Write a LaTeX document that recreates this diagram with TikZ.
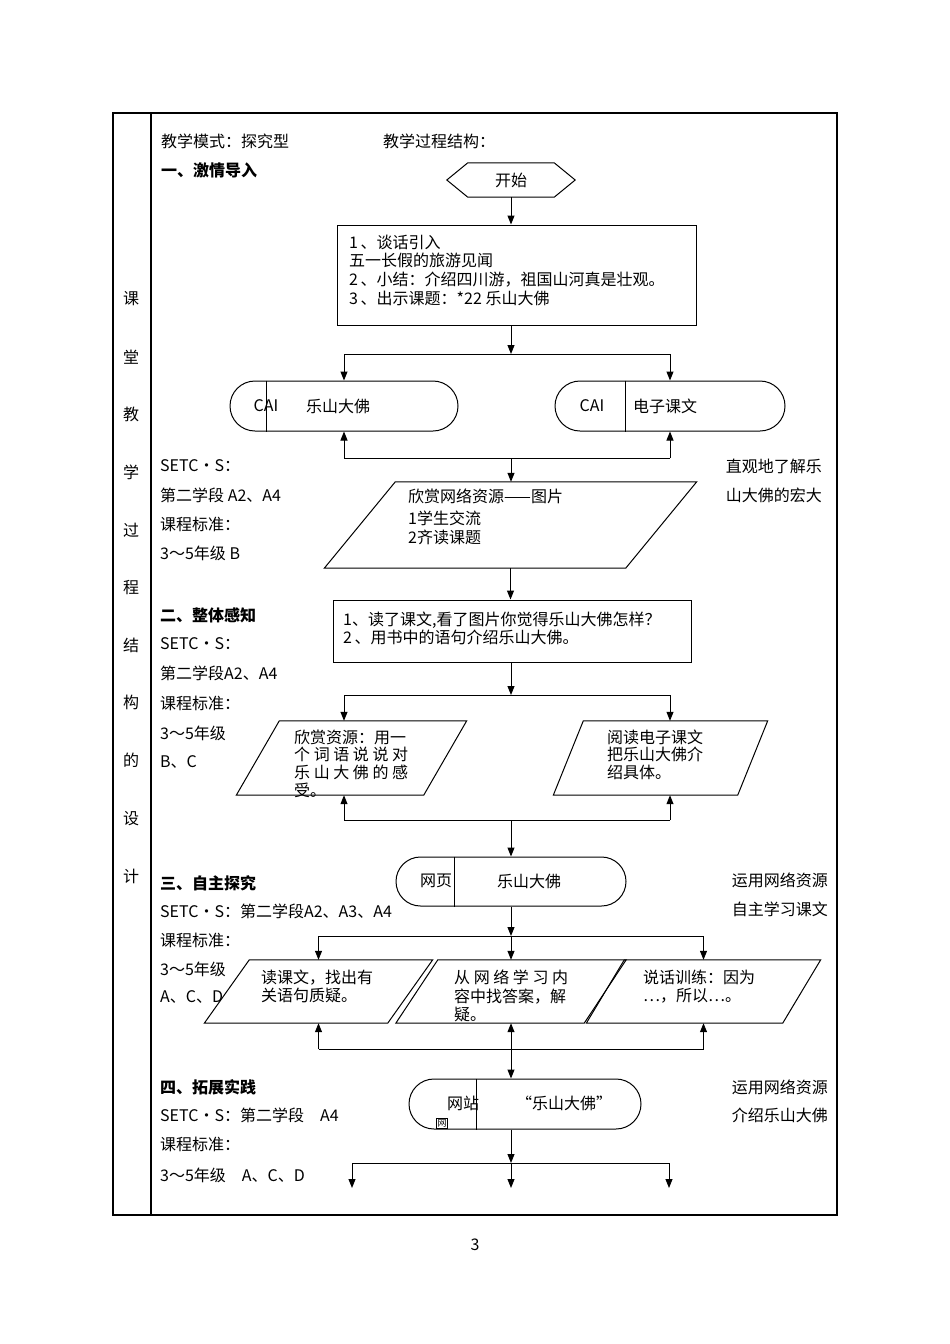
\documentclass[tikz,border=0pt]{standalone}
\usepackage{fontspec}
\setmainfont{Noto Sans CJK SC}
\usetikzlibrary{arrows.meta,shapes.misc}

\tikzset{
  every node/.style={inner sep=0pt, font=\fontsize{16}{18.7}\selectfont},
  txt/.style={anchor=west},
  rtxt/.style={anchor=east},
  hd/.style={anchor=west, font=\fontsize{16}{18.7}\selectfont\bfseries},
  para/.style={anchor=north west, align=left},
  tight/.style={font=\fontsize{16}{17.7}\selectfont},
  term/.style={draw, rounded rectangle, line width=1pt, minimum height=50},
  link/.style={line width=1pt},
  arr/.style={line width=1pt, -{Triangle[length=9pt,width=7pt]}},
}

\begin{document}
\begin{tikzpicture}[x=1pt,y=-1pt]
\useasboundingbox (0,0) rectangle (950,1344);
% table frame
\draw[line width=1.1pt] (113,113) rectangle (837,1215);
\draw[line width=1.1pt] (151,113) -- (151,1215);
\foreach \c [count=\i] in {课,堂,教,学,过,程,结,构,的,设,计}
  \node (col\i) at (131,{299+57.7*(\i-1)}) {\c};

\node[txt] (mode) at (161,141) {教学模式：探究型};
\node[txt] (struct) at (383,141) {教学过程结构：};

% part one
\node[hd] (sec1) at (161,170) {一、激情导入};
\node[minimum width=86, minimum height=34] (start) at (511,180) {开始};
\draw[link] (start.north west) -- (start.north east) -- ([xshift=21]start.east)
  -- (start.south east) -- (start.south west) -- ([xshift=-21]start.west) -- cycle;
\node[draw, link, minimum width=359, minimum height=100] (intro) at (516.5,275) {};
\node[para] (introtxt) at (349,234.5) {1\,、谈话引入\\五一长假的旅游见闻\\2\,、小结：介绍四川游，祖国山河真是壮观。\\3\,、出示课题：*22 乐山大佛};
\draw[arr] (start.south) -- (start.south |- intro.north);

\node[term, minimum width=228] (cai1) at (344,406) {};
\draw[link] ([xshift=-78]cai1.north) -- ([xshift=-78]cai1.south);
\node (cai1a) at (266,406) {CAI};
\node (cai1b) at (338,406) {乐山大佛};
\node[term, minimum width=230] (cai2) at (670,406) {};
\draw[link] ([xshift=-45]cai2.north) -- ([xshift=-45]cai2.south);
\node (cai2a) at (592,406) {CAI};
\node (cai2b) at (665,406) {电子课文};

\coordinate (j1) at (511,354);
\draw[arr] (intro.south -| j1) -- (j1);
\draw[link] (j1 -| cai1) -- (j1 -| cai2);
\draw[arr] (j1 -| cai1) -- (cai1.north);
\draw[arr] (j1 -| cai2) -- (cai2.north);

\coordinate (j2) at (511,458);
\draw[arr] (j2 -| cai1) -- (cai1.south);
\draw[arr] (j2 -| cai2) -- (cai2.south);
\draw[link] (j2 -| cai1) -- (j2 -| cai2);

\node[minimum width=301, minimum height=86] (web1) at (510.5,525) {};
\draw[link] ([xshift=35.5]web1.north west) -- ([xshift=35.5]web1.north east)
  -- ([xshift=-35.5]web1.south east) -- ([xshift=-35.5]web1.south west) -- cycle;
\node[para] (web1txt) at (408,488.5) {欣赏网络资源——图片\\[3pt]1学生交流\\[1pt]2齐读课题};
\draw[arr] (j2) -- (web1.north -| j2);

\node[txt] (std1a) at (160,466) {SETC•S：};
\node[txt] (std1b) at (160,495) {第二学段 A2、A4};
\node[txt] (std1c) at (160,524) {课程标准：};
\node[txt] (std1d) at (160,553) {3～5年级 B};
\node[rtxt] (note1a) at (822,466) {直观地了解乐};
\node[rtxt] (note1b) at (822,495) {山大佛的宏大};

% part two
\node[hd] (sec2) at (160,615) {二、整体感知};
\node[txt] (std2a) at (160,644) {SETC•S：};
\node[txt] (std2b) at (160,673) {第二学段A2、A4};
\node[txt] (std2c) at (160,703) {课程标准：};
\node[txt] (std2d) at (160,733) {3～5年级};
\node[txt] (std2e) at (160,762) {B、C};

\node[draw, link, minimum width=358, minimum height=62] (whole) at (512,631) {};
\node[para] (wholetxt) at (343,611.5) {1、读了课文,看了图片你觉得乐山大佛怎样？\\2\,、用书中的语句介绍乐山大佛。};
\draw[arr] (web1.south) -- (web1.south |- whole.north);

\coordinate (j3) at (511,695);
\draw[arr] (whole.south -| j3) -- (j3);
\draw[link] (j3 -| cai1) -- (j3 -| cai2);

\node[minimum width=187, minimum height=74] (feel) at (351.5,758) {};
\draw[link] ([xshift=21.5]feel.north west) -- ([xshift=21.5]feel.north east)
  -- ([xshift=-21.5]feel.south east) -- ([xshift=-21.5]feel.south west) -- cycle;
\node[para, tight] (feeltxt) at (294,729.5) {欣赏资源：用一\\个 词 语 说 说 对\\乐 山 大 佛 的 感\\受。};
\node[minimum width=184, minimum height=74] (read) at (660.5,758) {};
\draw[link] ([xshift=15]read.north west) -- ([xshift=15]read.north east)
  -- ([xshift=-15]read.south east) -- ([xshift=-15]read.south west) -- cycle;
\node[para, tight] (readtxt) at (607,729.5) {阅读电子课文\\把乐山大佛介\\绍具体。};
\draw[arr] (j3 -| cai1) -- (feel.north -| cai1);
\draw[arr] (j3 -| cai2) -- (read.north -| cai2);

\coordinate (j4) at (511,820);
\draw[arr] (j4 -| cai1) -- (feel.south -| cai1);
\draw[arr] (j4 -| cai2) -- (read.south -| cai2);
\draw[link] (j4 -| cai1) -- (j4 -| cai2);

% part three
\node[hd] (sec3) at (160,883) {三、自主探究};
\node[txt] (std3a) at (160,911) {SETC•S：第二学段A2、A3、A4};
\node[txt] (std3b) at (160,940) {课程标准：};
\node[txt] (std3c) at (160,969) {3～5年级};
\node[txt] (std3d) at (160,997) {A、C、D};
\node[rtxt] (note3a) at (828,880) {运用网络资源};
\node[rtxt] (note3b) at (828,909) {自主学习课文};

\node[term, minimum width=230, minimum height=49] (webpage) at (511,881.5) {};
\draw[link] ([xshift=-57]webpage.north) -- ([xshift=-57]webpage.south);
\node (webpagea) at (436,881) {网页};
\node (webpageb) at (529,881) {乐山大佛};
\draw[arr] (j4) -- (webpage.north);

\coordinate (j5) at (511,936);
\draw[arr] (webpage.south) -- (j5);

\node[minimum width=183, minimum height=63] (q1) at (318.5,991.5) {};
\draw[link] ([xshift=22.5]q1.north west) -- ([xshift=22.5]q1.north east)
  -- ([xshift=-22.5]q1.south east) -- ([xshift=-22.5]q1.south west) -- cycle;
\node[para] (q1txt) at (261,969.5) {读课文，找出有\\关语句质疑。};
\node[minimum width=188, minimum height=63] (q2) at (511,991.5) {};
\draw[link] ([xshift=21]q2.north west) -- ([xshift=21]q2.north east)
  -- ([xshift=-21]q2.south east) -- ([xshift=-21]q2.south west) -- cycle;
\node[para] (q2txt) at (454,969.5) {从 网 络 学 习 内\\容中找答案，解\\疑。};
\node[minimum width=196, minimum height=63] (q3) at (703.5,991.5) {};
\draw[link] ([xshift=19]q3.north west) -- ([xshift=19]q3.north east)
  -- ([xshift=-19]q3.south east) -- ([xshift=-19]q3.south west) -- cycle;
\node[para] (q3txt) at (643,969.5) {说话训练：因为\\…，所以…。};

\draw[link] (j5 -| q1) -- (j5 -| q3);
\foreach \q in {q1,q2,q3}
  \draw[arr] (j5 -| \q) -- (\q.north);

\coordinate (j6) at (511,1049);
\foreach \q in {q1,q2,q3}
  \draw[arr] (j6 -| \q) -- (\q.south);
\draw[link] (j6 -| q1) -- (j6 -| q3);

% part four
\node[hd] (sec4) at (160,1087) {四、拓展实践};
\node[txt] (std4a) at (160,1115) {SETC•S：第二学段\quad A4};
\node[txt] (std4b) at (160,1144) {课程标准：};
\node[txt] (std4c) at (160,1175) {3～5年级\quad A、C、D};
\node[rtxt] (note4a) at (828,1087) {运用网络资源};
\node[rtxt] (note4b) at (828,1115) {介绍乐山大佛};

\node[term, minimum width=232] (site) at (525,1104) {};
\draw[link] ([xshift=-49]site.north) -- ([xshift=-49]site.south);
\node (sitea) at (463,1103) {网站};
\node (siteb) at (564,1103) {“乐山大佛”};
\node[draw, inner sep=1pt, font=\fontsize{9}{10}\selectfont] (sitec) at (442,1123) {网};
\draw[arr] (j6) -- (site.north -| j6);

\coordinate (j7) at (511,1163);
\draw[arr] (site.south -| j7) -- (j7);
\coordinate (e1) at (352,1188);
\coordinate (e2) at (511,1188);
\coordinate (e3) at (669,1188);
\draw[link] (j7 -| e1) -- (j7 -| e3);
\foreach \e in {e1,e2,e3}
  \draw[arr] (j7 -| \e) -- (\e);

\node (pgno) at (475,1245) {3};
\end{tikzpicture}
\end{document}
